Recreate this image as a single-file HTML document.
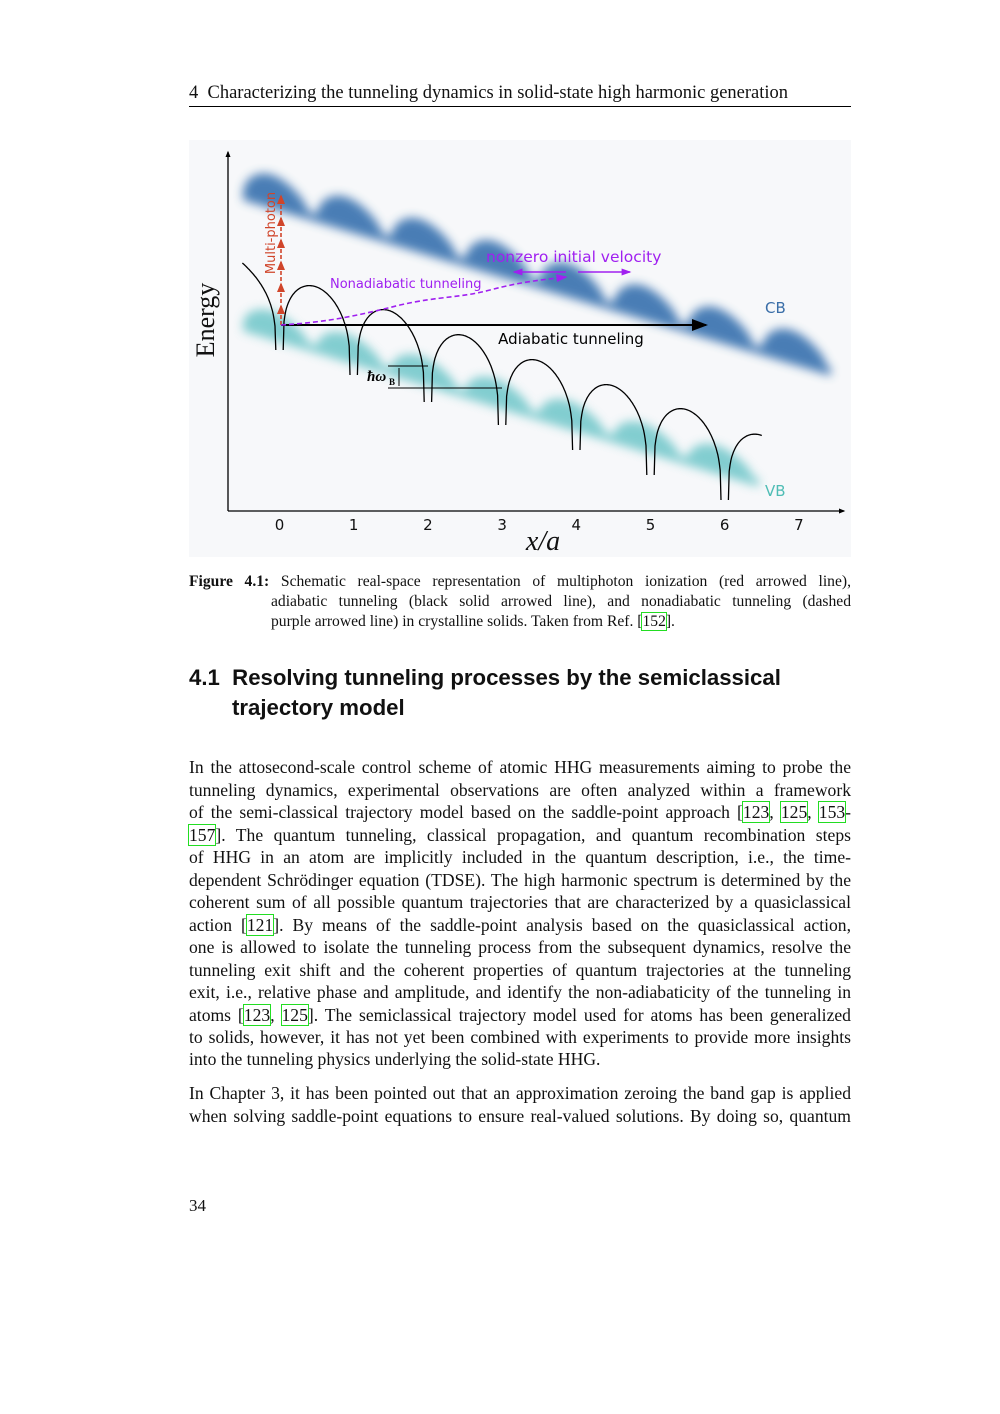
<!DOCTYPE html>
<html><head><meta charset="utf-8">
<style>
body{margin:0;background:#fff;}
#page{position:relative;width:1000px;height:1414px;background:#fff;font-family:"Liberation Serif",serif;color:#111;}
.abs{position:absolute;}
.ln{position:absolute;left:189px;width:662px;font-size:17.6px;line-height:20px;white-space:nowrap;text-align:justify;text-align-last:justify;}
.cap{position:absolute;font-size:15.6px;line-height:18px;white-space:nowrap;text-align:justify;text-align-last:justify;}
.ref{outline:1.3px solid #22dd22;outline-offset:0px;}
h2{margin:0;position:absolute;left:189px;font-family:"Liberation Sans",sans-serif;font-weight:bold;font-size:22.2px;line-height:30px;}
</style></head>
<body>
<div id="page">
<div class="abs" style="left:189px;top:83px;font-size:18.5px;">4&nbsp; Characterizing the tunneling dynamics in solid-state high harmonic generation</div>
<div class="abs" style="left:189px;top:106px;width:662px;height:1.3px;background:#000;"></div>

<svg class="abs" style="left:0;top:0" width="1000" height="570" id="fig">
<defs>
<filter id="blur" x="-10%" y="-30%" width="120%" height="160%"><feGaussianBlur stdDeviation="5"/></filter>
<marker id="ab" markerWidth="8" markerHeight="6" refX="7" refY="3" orient="auto"><path d="M0,0 L8,3 L0,6 z" fill="#000"/></marker>
<marker id="ar" markerWidth="6" markerHeight="5" refX="5" refY="2.5" orient="auto"><path d="M0,0 L6,2.5 L0,5 z" fill="#d0452a"/></marker>
<marker id="ap" markerWidth="7" markerHeight="5" refX="6" refY="2.5" orient="auto"><path d="M0,0 L7,2.5 L0,5 z" fill="#a020f0"/></marker>
<marker id="ak" markerWidth="5" markerHeight="4" refX="4" refY="2" orient="auto"><path d="M0,0 L5,2 L0,4 z" fill="#000"/></marker>
</defs>
<rect x="189" y="140" width="662" height="417" fill="#f7f8fa"/>
<g id="bands"></g>
<g id="curves"></g>
<g id="axes"></g>
<g id="annot"></g>
</svg>

<div class="cap" style="left:189px;top:573px;width:662px;"><b>Figure 4.1:</b> Schematic real-space representation of multiphoton ionization (red arrowed line),</div>
<div class="cap" style="left:271px;top:593px;width:580px;">adiabatic tunneling (black solid arrowed line), and nonadiabatic tunneling (dashed</div>
<div class="cap" style="left:271px;top:613px;width:auto;text-align-last:auto;">purple arrowed line) in crystalline solids. Taken from Ref. [<span class="ref">152</span>].</div>

<h2 style="top:663px;">4.1&nbsp; Resolving tunneling processes by the semiclassical</h2>
<h2 style="top:693px;left:232px;">trajectory model</h2>

<div>
<div class="ln" style="top:757px">In the attosecond-scale control scheme of atomic HHG measurements aiming to probe the</div>
<div class="ln" style="top:780px">tunneling dynamics, experimental observations are often analyzed within a framework</div>
<div class="ln" style="top:802px">of the semi-classical trajectory model based on the saddle-point approach [<span class="ref">123</span>, <span class="ref">125</span>, <span class="ref">153</span>-</div>
<div class="ln" style="top:825px"><span class="ref">157</span>]. The quantum tunneling, classical propagation, and quantum recombination steps</div>
<div class="ln" style="top:847px">of HHG in an atom are implicitly included in the quantum description, i.e., the time-</div>
<div class="ln" style="top:870px">dependent Schrödinger equation (TDSE). The high harmonic spectrum is determined by the</div>
<div class="ln" style="top:892px">coherent sum of all possible quantum trajectories that are characterized by a quasiclassical</div>
<div class="ln" style="top:915px">action [<span class="ref">121</span>]. By means of the saddle-point analysis based on the quasiclassical action,</div>
<div class="ln" style="top:937px">one is allowed to isolate the tunneling process from the subsequent dynamics, resolve the</div>
<div class="ln" style="top:960px">tunneling exit shift and the coherent properties of quantum trajectories at the tunneling</div>
<div class="ln" style="top:982px">exit, i.e., relative phase and amplitude, and identify the non-adiabaticity of the tunneling in</div>
<div class="ln" style="top:1005px">atoms [<span class="ref">123</span>, <span class="ref">125</span>]. The semiclassical trajectory model used for atoms has been generalized</div>
<div class="ln" style="top:1027px">to solids, however, it has not yet been combined with experiments to provide more insights</div>
<div class="ln" style="top:1049px;text-align-last:auto">into the tunneling physics underlying the solid-state HHG.</div>
</div>
<div>
<div class="ln" style="top:1083px">In Chapter 3, it has been pointed out that an approximation zeroing the band gap is applied</div>
<div class="ln" style="top:1106px">when solving saddle-point equations to ensure real-valued solutions. By doing so, quantum</div>
</div>
<div class="abs" style="left:189px;top:1196px;font-size:17px;">34</div>
</div>

<script>
// data
const xTicks = [0,1,2,3,4,5,6,7];
const wellBottoms = [160,135,108,85,60,35,10];   // energy (px above axis) at cusp bottoms
const arcTops = [223,199,174,149,124,100];        // energy at arc maxima
const tailTop = 75;                               // energy at end of last partial arc
const leftStart = 247;                            // energy of curve at x=-0.5

const NS = "http://www.w3.org/2000/svg";
const X0 = 279.5, DX = 74.2, Y0 = 510;
const sx = v => X0 + DX * v;
const sy = e => Y0 - e;
function mk(tag, attrs, parent){
  const el = document.createElementNS(NS, tag);
  for (const k in attrs) el.setAttribute(k, attrs[k]);
  parent.appendChild(el);
  return el;
}
const axes = document.getElementById('axes');
const curves = document.getElementById('curves');
const bands = document.getElementById('bands');
const annot = document.getElementById('annot');

// bands
function band(x1,y1,x2,y2,h,color,op,name){
  const per = DX, slope=(y2-y1)/(x2-x1);
  let top = [], bot = [];
  for (let x=x1; x<=x2; x+=2){
    const c = y1 + slope*(x-x1);
    const t = ((x-x1)%per)/per;
    const d = h*Math.pow(Math.sin(Math.PI*Math.min(1,t*1.15)),0.55)*(1-0.35*t);
    top.push([x, c - d]);
    bot.push([x, c + 8]);
  }
  let d = "M"+top.map(p=>p[0].toFixed(1)+","+p[1].toFixed(1)).join(" L");
  d += " L"+bot.reverse().map(p=>p[0].toFixed(1)+","+p[1].toFixed(1)).join(" L")+" Z";
  const p = mk('path',{d:d,fill:color,opacity:op,filter:'url(#blur)'},bands);
  
  
}
band(243,192,832,368,30,'#3f77b2',0.95,'conduction-band');
band(243,323,760,479,24,'#5bbfc2',0.75,'valence-band');

// axes
const ya = mk('line',{x1:228,y1:511,x2:228,y2:152,stroke:'#000','stroke-width':1.3,'marker-end':'url(#ak)'},axes);


const xa = mk('line',{x1:228,y1:511,x2:844,y2:511,stroke:'#000','stroke-width':1.3,'marker-end':'url(#ak)'},axes);


xTicks.forEach(v=>{
  const t = mk('text',{x:sx(v),y:530,'text-anchor':'middle','font-family':'DejaVu Sans, sans-serif','font-size':15,fill:'#111'},axes);
  t.textContent = v;
  
  
});
const xt = mk('text',{x:543,y:550,'text-anchor':'middle','font-family':'Liberation Serif, serif','font-style':'italic','font-size':28,fill:'#111'},axes);
xt.textContent='x/a';


const yt = mk('text',{x:0,y:0,'text-anchor':'middle','font-family':'Liberation Serif, serif','font-size':26,fill:'#111',transform:'translate(214,320) rotate(-90)'},axes);
yt.textContent='Energy';



// potential curve
function addPath(pts,name){
  const p = mk('path',{d:"M"+pts.map(p=>p[0].toFixed(1)+","+p[1].toFixed(1)).join(" L"),fill:'none',stroke:'#000','stroke-width':1.3},curves);
  
  
}
{ // left part
  const pts=[];
  for(let i=0;i<=40;i++){const t=i/40;const x=-0.5+0.45*t;
    const e=wellBottoms[0]+(leftStart-wellBottoms[0])*Math.pow(1-t,0.35);
    pts.push([sx(x),sy(e)]);}
  addPath(pts,'potential-left');
}
for(let n=0;n<arcTops.length;n++){
  const b0=wellBottoms[n], b1=wellBottoms[n+1];
  const H=arcTops[n]-(b0*0.58+b1*0.42)+2;
  const pts=[];
  for(let i=0;i<=80;i++){const t=i/80;const x=n+0.05+0.9*t;
    const e=b0+(b1-b0)*t+H*Math.pow(Math.sin(Math.PI*t),0.3);
    pts.push([sx(x),sy(e)]);}
  addPath(pts,'potential-arc');
}
{ // final partial arc
  const b0=wellBottoms[6];
  const H=tailTop-b0+12;
  const pts=[];
  for(let i=0;i<=40;i++){const t=i/80;const x=6.05+0.9*t;
    const e=b0-25*t+H*Math.pow(Math.sin(Math.PI*t),0.3);
    pts.push([sx(x),sy(e)]);}
  addPath(pts,'potential-tail');
}

// annotations
function ann(tag,attrs,name,text){
  const el=mk(tag,attrs,annot);
  if(text!==undefined) el.textContent=text;
  
  
  return el;
}
ann('line',{x1:281,y1:325,x2:706,y2:325,stroke:'#000','stroke-width':2,'marker-end':'url(#ab)'},'adiabatic-arrow');
ann('text',{x:571,y:344,'text-anchor':'middle','font-family':'DejaVu Sans, sans-serif','font-size':15,fill:'#000'},'adiabatic-label','Adiabatic tunneling');
for(let k=0;k<6;k++){
  ann('line',{x1:281,y1:325-k*22,x2:281,y2:325-(k+1)*22+3,stroke:'#d0452a','stroke-width':1.6,'stroke-dasharray':'4,2','marker-end':'url(#ar)'},'multiphoton-arrow');
}
ann('text',{x:0,y:0,'text-anchor':'middle','font-family':'DejaVu Sans, sans-serif','font-size':13,fill:'#d0452a',transform:'translate(275,233) rotate(-90)'},'multiphoton-label','Multi-photon');
ann('path',{d:'M281,325 C330,322 360,315 400,305 C440,296 460,298 490,290 C520,282 540,280 566,277',fill:'none',stroke:'#a020f0','stroke-width':1.6,'stroke-dasharray':'5,3','marker-end':'url(#ap)'},'nonadiabatic-arrow');
ann('text',{x:330,y:288,'font-family':'DejaVu Sans, sans-serif','font-size':13,fill:'#a020f0'},'nonadiabatic-label','Nonadiabatic tunneling');
ann('text',{x:486,y:262,'font-family':'DejaVu Sans, sans-serif','font-size':15.5,fill:'#a020f0'},'nonzero-velocity-label','nonzero initial velocity');
ann('line',{x1:566,y1:272,x2:514,y2:272,stroke:'#a020f0','stroke-width':1.4,'marker-end':'url(#ap)'},'velocity-arrow-left');
ann('line',{x1:578,y1:272,x2:630,y2:272,stroke:'#a020f0','stroke-width':1.4,'marker-end':'url(#ap)'},'velocity-arrow-right');
ann('line',{x1:388,y1:366,x2:428,y2:366,stroke:'#000','stroke-width':1},'bloch-level-upper');
ann('line',{x1:388,y1:388,x2:502,y2:388,stroke:'#000','stroke-width':1},'bloch-level-lower');
ann('line',{x1:399,y1:368,x2:399,y2:386,stroke:'#000','stroke-width':1},'bloch-gap-arrow');
ann('text',{x:367,y:381,'font-family':'Liberation Serif, serif','font-style':'italic','font-weight':'bold','font-size':15,fill:'#000'},'bloch-energy-label','ħω');
ann('text',{x:389,y:385,'font-family':'Liberation Serif, serif','font-weight':'bold','font-size':9,fill:'#000'},'bloch-subscript','B');
ann('text',{x:765,y:313,'font-family':'DejaVu Sans, sans-serif','font-size':15,fill:'#3a6ea8'},'cb-label','CB');
ann('text',{x:765,y:496,'font-family':'DejaVu Sans, sans-serif','font-size':15,fill:'#4fbdb5'},'vb-label','VB');
</script>
</body></html>
